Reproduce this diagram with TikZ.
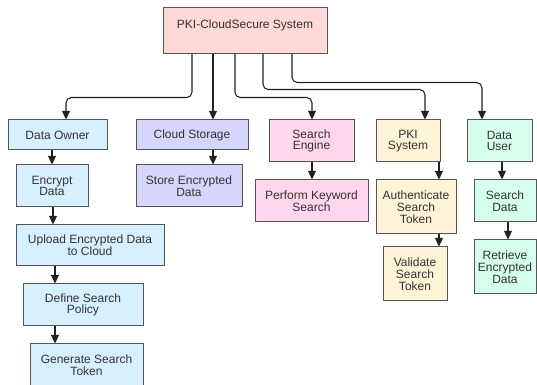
\documentclass[tikz,border=0pt]{standalone}
\usepackage{fontspec}
\setmainfont{Liberation Sans}
\usetikzlibrary{arrows.meta,calc}

\definecolor{boxline}{HTML}{555555}
\definecolor{lnk}{HTML}{222222}
\definecolor{txt}{HTML}{333333}
\definecolor{sysfill}{HTML}{FFD8D8}
\definecolor{ownerfill}{HTML}{D6F0FF}
\definecolor{cloudfill}{HTML}{D6D6FC}
\definecolor{enginefill}{HTML}{FFD6EC}
\definecolor{pkifill}{HTML}{FFF4D8}
\definecolor{userfill}{HTML}{D6FEEC}

\begin{document}
\begin{tikzpicture}[x=0.75pt, y=-0.75pt,
    box/.style={draw=boxline, line width=0.75pt, align=center, inner sep=0pt,
        text=txt, font=\fontsize{9}{8.8}\selectfont},
    sz/.style 2 args={minimum width=#1, minimum height=#2},
    arr/.style={draw=lnk, line width=0.8pt, -{Triangle[length=6.5pt,width=6pt]}},
    conn/.style={arr, rounded corners=4pt}]

    \useasboundingbox (0,0) rectangle (537,385);

    % root
    \node [box, fill=sysfill, minimum width=123pt, text height=15.4pt, text depth=18.4pt] (sys) at (245,30.5) {PKI-CloudSecure System};

    % data owner column
    \node [box, fill=ownerfill, sz={74.25pt}{22.5pt}] (own) at (57.5,135) {Data Owner};
    \node [box, fill=ownerfill, sz={54pt}{31.5pt}] (enc) at (52,186) {Encrypt\\Data};
    \node [box, fill=ownerfill, sz={111pt}{30.75pt}] (upl) at (90,245.5) {Upload Encrypted Data\\to Cloud};
    \node [box, fill=ownerfill, sz={90pt}{31.5pt}] (pol) at (83,305) {Define Search\\Policy};
    \node [box, fill=ownerfill, sz={84.75pt}{31.5pt}] (gen) at (86.5,365) {Generate Search\\Token};

    % cloud storage column
    \node [box, fill=cloudfill, sz={84pt}{22.5pt}] (cld) at (192,135) {Cloud Storage};
    \node [box, fill=cloudfill, sz={79.5pt}{31.5pt}] (sto) at (189,186) {Store Encrypted\\Data};

    % search engine column
    \node [box, fill=enginefill, sz={63.75pt}{31.5pt}] (eng) at (311.5,141) {Search\\Engine};
    \node [box, fill=enginefill, sz={84.75pt}{31.5pt}] (kwd) at (311.5,201) {Perform Keyword\\Search};

    % pki column
    \node [box, fill=pkifill, sz={48pt}{31.5pt}] (pki) at (408,141) {PKI\\System};
    \node [box, fill=pkifill, sz={60pt}{40.5pt}] (aut) at (416,207) {Authenticate\\Search\\Token};
    \node [box, fill=pkifill, sz={48pt}{40.5pt}] (val) at (415,274) {Validate\\Search\\Token};

    % data user column
    \node [box, fill=userfill, sz={48.75pt}{31.5pt}] (usr) at (499.5,141) {Data\\User};
    \node [box, fill=userfill, sz={46.5pt}{31.5pt}] (sdt) at (505,201) {Search\\Data};
    \node [box, fill=userfill, sz={46.5pt}{40.5pt}] (ret) at (505,267) {Retrieve\\Encrypted\\Data};

    % x positions of the connectors
    \coordinate (t1) at (192,0);
    \coordinate (t2) at (213,0);
    \coordinate (t3) at (235,0);
    \coordinate (t4) at (263,0);
    \coordinate (t5) at (292,0);
    \coordinate (a1) at (66,0);
    \coordinate (a3) at (312,0);
    \coordinate (a4) at (425,0);
    \coordinate (a5) at (482,0);
    \coordinate (b1) at (52,0);
    \coordinate (b2) at (53,0);
    \coordinate (b3) at (55,0);
    \coordinate (b4) at (213,0);
    \coordinate (b5) at (439,0);
    \coordinate (b6) at (502,0);
    \coordinate (b7) at (508,0);

    % root to columns
    \draw [conn] (sys.south -| t1) -- ++(0,44) -| (own.north -| a1);
    \draw [arr] (sys.south -| t2) -- (cld.north -| t2);
    \draw [conn] (sys.south -| t3) -- ++(0,44) -| (eng.north -| a3);
    \draw [conn] (sys.south -| t4) -- ++(0,36) -| (pki.north -| a4);
    \draw [conn] (sys.south -| t5) -- ++(0,29) -| (usr.north -| a5);

    % inside columns
    \draw [arr] (own.south -| b1) -- (enc.north -| b1);
    \draw [arr] (enc.south -| b2) -- (upl.north -| b2);
    \draw [arr] (upl.south -| b3) -- (pol.north -| b3);
    \draw [arr] (pol.south -| b3) -- (gen.north -| b3);
    \draw [arr] (cld.south -| b4) -- (sto.north -| b4);
    \draw [arr] (eng.south -| a3) -- (kwd.north -| a3);
    \draw [arr] (pki.south -| b5) -- (aut.north -| b5);
    \draw [arr] (aut.south -| b5) -- (val.north -| b5);
    \draw [arr] (usr.south -| b6) -- (sdt.north -| b6);
    \draw [arr] (sdt.south -| b7) -- (ret.north -| b7);

\end{tikzpicture}
\end{document}
